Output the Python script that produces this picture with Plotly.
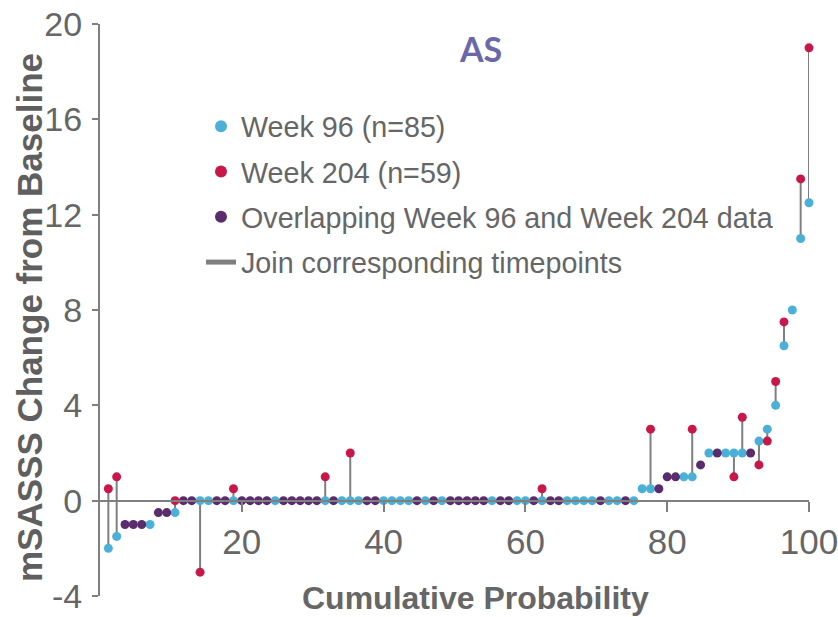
import plotly.graph_objects as go

# Week 96 change from baseline per patient, sorted (cumulative order)
week96 = [-2, -1.5, -1, -1, -1, -1, -0.5, -0.5, -0.5, 0,
          0, 0, 0, 0, 0, 0, 0, 0, 0, 0,
          0, 0, 0, 0, 0, 0, 0, 0, 0, 0,
          0, 0, 0, 0, 0, 0, 0, 0, 0, 0,
          0, 0, 0, 0, 0, 0, 0, 0, 0, 0,
          0, 0, 0, 0, 0, 0, 0, 0, 0, 0,
          0, 0, 0, 0, 0.5, 0.5, 0.5, 1, 1, 1,
          1, 1.5, 2, 2, 2, 2, 2, 2, 2.5, 3,
          4, 6.5, 8, 11, 12.5]
N = None
week204 = [0.5, 1, -1, -1, -1, N, -0.5, -0.5, 0, 0,
           0, -3, N, 0, 0, 0.5, 0, 0, 0, 0,
           N, 0, 0, 0, 0, 0, 1, 0, N, 2,
           N, 0, 0, N, N, N, N, 0, N, 0,
           N, 0, 0, 0, 0, 0, N, 0, 0, N,
           N, 0, 0.5, 0, 0, N, N, N, N, 0,
           N, N, 0, N, N, 3, 0.5, 1, 1, N,
           3, 1.5, N, 2, N, 1, 3.5, 2, 1.5, 2.5,
           5, 7.5, N, 13.5, 19]

x_ticks = [20, 40, 60, 80, 100]
y_ticks = [-4, 0, 4, 8, 12, 16, 20]
y_tick_text = ["-4", "0", "4", "8", "12", "16", "20"]

n = len(week96)
xpos = [(i + 1) * 100 / n for i in range(n)]

BLUE = "#4bb0d8"
RED = "#c8184a"
PURPLE = "#5a2c6e"
GREY = "#7f7f7f"
TXT = "#666666"

bx, by, rx, ry, px, py, lx, ly = [], [], [], [], [], [], [], []
for x, a, b in zip(xpos, week96, week204):
    if b is not None and b == a:
        px.append(x); py.append(a)
    else:
        bx.append(x); by.append(a)
        if b is not None:
            rx.append(x); ry.append(b)
            lx += [x, x, None]; ly += [a, b, None]

fig = go.Figure()
fig.add_trace(go.Scatter(x=lx, y=ly, mode="lines", line=dict(color=GREY, width=2),
                         name="Join corresponding timepoints", legendgroup="d", legendrank=4,
                         cliponaxis=False, hoverinfo="skip"))
fig.add_trace(go.Scatter(x=bx, y=by, mode="markers", marker=dict(color=BLUE, size=9),
                         name="Week 96 (n=85)", legendgroup="a", legendrank=1, cliponaxis=False))
fig.add_trace(go.Scatter(x=rx, y=ry, mode="markers", marker=dict(color=RED, size=9),
                         name="Week 204 (n=59)", legendgroup="b", legendrank=2, cliponaxis=False))
fig.add_trace(go.Scatter(x=px, y=py, mode="markers", marker=dict(color=PURPLE, size=9),
                         name="Overlapping Week 96 and Week 204 data", legendgroup="c",
                         legendrank=3, cliponaxis=False))

fig.update_layout(
    width=838, height=617,
    margin=dict(l=100, r=29, t=24, b=21, autoexpand=False),
    paper_bgcolor="white", plot_bgcolor="white",
    font=dict(family="Liberation Sans, Arial, sans-serif", color=TXT),
    showlegend=True,
    legend=dict(x=(201 - 100) / 709, y=(596 - 101) / 572, xanchor="left", yanchor="top",
                font=dict(size=28.7, color=TXT), itemsizing="constant",
                traceorder="grouped", tracegroupgap=5, bgcolor="rgba(0,0,0,0)"),
    xaxis=dict(range=[0, 100], tickvals=x_ticks, showgrid=False, automargin=False,
               zeroline=False, showline=True, linecolor=GREY, linewidth=2,
               ticks="outside", ticklen=10, tickwidth=2, tickcolor=GREY,
               tickfont=dict(size=35, color=TXT), anchor="free", position=4 / 24,
               ticklabeloverflow="allow"),
    yaxis=dict(range=[-4, 20], tickvals=y_ticks, ticktext=y_tick_text, showgrid=False,
               automargin=False,
               zeroline=False, showline=True, linecolor=GREY, linewidth=2,
               ticks="outside", ticklen=6, tickwidth=2, tickcolor=GREY,
               tickfont=dict(size=34, color=TXT), ticklabelstandoff=3,
               ticklabeloverflow="allow"),
    annotations=[
        dict(text="<b>AS</b>", xref="paper", yref="paper", x=(480 - 100) / 709,
             y=(596 - 48) / 572, xanchor="center", yanchor="middle",
             showarrow=False, font=dict(family="Lato, sans-serif", size=34, color="#6a68a8")),
        dict(text="<b>Cumulative Probability</b>", xref="paper", yref="paper",
             x=(476 - 100) / 709, y=(596 - 598) / 572, xanchor="center", yanchor="middle",
             showarrow=False, font=dict(size=32, color=TXT)),
        dict(text="<b>mSASSS Change from Baseline</b>", xref="paper", yref="paper",
             x=(29 - 100) / 709, y=(596 - 318) / 572, xanchor="center", yanchor="middle",
             textangle=-90, showarrow=False, font=dict(size=35, color="#5f5f5f")),
    ],
)

fig.write_html("out.html")
